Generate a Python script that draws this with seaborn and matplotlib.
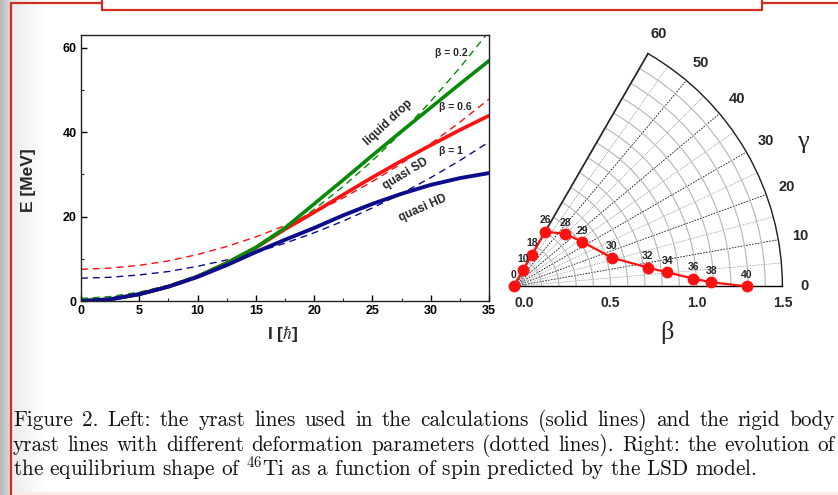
import numpy as np
import matplotlib
matplotlib.use("Agg")
import matplotlib.pyplot as plt
import seaborn as sns
from matplotlib.lines import Line2D
from matplotlib.patches import Rectangle

# ---------------- data ----------------
spin_I = [0, 2.5, 5, 7.5, 10, 12.5, 15, 17.5, 20, 22.5, 25, 27.5, 30, 32.5, 35]

E_liquid_drop = [0, 0.4, 1.6, 3.4, 5.8, 9.0, 12.7, 17.3, 23.0, 28.7, 34.5, 40.2, 45.8, 51.4, 56.9]
E_quasi_SD    = [0, 0.4, 1.6, 3.4, 5.8, 9.0, 12.6, 17.0, 21.0, 25.2, 29.3, 33.2, 36.9, 40.5, 43.9]
E_quasi_HD    = [0, 0.4, 1.6, 3.4, 5.7, 8.5, 11.6, 14.5, 17.3, 20.3, 23.0, 25.4, 27.5, 29.1, 30.3]

E_rigid_b02 = [0.6, 1.04, 2.11, 3.71, 6.12, 9.07, 12.65, 16.85, 21.68, 27.14, 33.23, 39.94, 47.29, 55.26, 63.85]
E_rigid_b06 = [7.5, 7.78, 8.46, 9.48, 11.02, 12.9, 15.18, 17.86, 20.94, 24.42, 28.3, 32.58, 37.26, 42.34, 47.82]
E_rigid_b10 = [5.4, 5.62, 6.17, 6.98, 8.22, 9.72, 11.54, 13.69, 16.15, 18.94, 22.04, 25.46, 29.21, 33.27, 37.66]

x_ticks = [0, 5, 10, 15, 20, 25, 30, 35]
y_ticks = [0, 20, 40, 60]

shape_spin_labels = ["0", "10", "18", "26", "28", "29", "30", "32", "34", "36", "38", "40"]
shape_gamma_deg = [0, 60, 60, 60, 45.5, 33, 16.3, 8.0, 5.2, 2.5, 1.2, 0]
shape_beta = [-0.064, 0.045, 0.149, 0.304, 0.365, 0.412, 0.532, 0.724, 0.835, 0.983, 1.086, 1.294]

gamma_ticks = [0, 10, 20, 30, 40, 50, 60]
beta_ticks = [0.0, 0.5, 1.0, 1.5]

caption_lines = [
    "Figure 2.  Left: the yrast lines used in the calculations (solid lines) and the rigid body",
    "yrast lines with different deformation parameters (dotted lines).  Right: the evolution of",
    "the equilibrium shape of $^{46}$Ti as a function of spin predicted by the LSD model.",
]

# ---------------- style ----------------
sns.set_theme(style="ticks")
plt.rcParams["font.family"] = ["Liberation Sans", "DejaVu Sans"]
plt.rcParams["mathtext.fontset"] = "cm"

W, H = 838, 495
fig = plt.figure(figsize=(W / 100, H / 100), dpi=100)
fig.patch.set_facecolor("white")

GREEN = "#078a07"
RED = "#ff1010"
BLUE = "#0c0c8a"
FRAME = "#cf2e1e"

def px(x, y):
    return x / W, 1 - y / H

# ---------------- slide decorations ----------------
bg = fig.add_axes([0, 0, 1, 1], zorder=-10)
bg.axis("off")
grad = np.linspace(0, 1, 50)[None, :]
bg.imshow(grad, extent=(0, 10, H, 0), cmap=matplotlib.colors.LinearSegmentedColormap.from_list("g", ["#b8b8b8", "#dcdcdc"]), aspect="auto", zorder=0)
bg.imshow(grad, extent=(11, 45, H, 0), cmap=matplotlib.colors.LinearSegmentedColormap.from_list("g2", ["#ebebeb", "#ffffff"]), aspect="auto", zorder=0)
bg.add_patch(Rectangle((11, 492), W - 11, 3, color="#fbeaea", zorder=1))
for xs, ys in [((11, 11), (3, H)), ((11, 102), (3, 3)), ((102, 102), (0, 10)),
               ((102, 762), (10, 10)), ((762, 762), (0, 10)), ((762, W), (2.5, 2.5))]:
    bg.add_line(Line2D(xs, ys, color=FRAME, lw=1.6, zorder=2))
bg.set_xlim(0, W)
bg.set_ylim(H, 0)

# ---------------- left panel ----------------
ax = fig.add_axes([81 / W, 1 - 301 / H, 408 / W, 266 / H])
dash = (0, (5, 3.5))
sns.lineplot(x=spin_I, y=E_rigid_b02, ax=ax, color=GREEN, lw=1.0, linestyle=dash)
sns.lineplot(x=spin_I, y=E_rigid_b06, ax=ax, color=RED, lw=1.0, linestyle=dash)
sns.lineplot(x=spin_I, y=E_rigid_b10, ax=ax, color=BLUE, lw=1.0, linestyle=dash)
sns.lineplot(x=spin_I, y=E_quasi_SD, ax=ax, color=RED, lw=2.6)
sns.lineplot(x=spin_I, y=E_liquid_drop, ax=ax, color=GREEN, lw=2.6)
sns.lineplot(x=spin_I, y=E_quasi_HD, ax=ax, color=BLUE, lw=2.8)

ax.set_xlim(0, 35)
ax.set_ylim(0, 63)
ax.set_xticks(x_ticks)
ax.set_yticks(y_ticks)
ax.set_xticks(np.arange(2.5, 35, 5), minor=True)
ax.set_yticks([10, 30, 50], minor=True)
ax.tick_params(which="major", direction="in", length=4, width=1, labelsize=9, pad=3, colors="black")
ax.tick_params(which="minor", direction="in", length=2.5, width=0.8)
for lab in ax.get_xticklabels() + ax.get_yticklabels():
    lab.set_fontweight("bold")
for sp in ax.spines.values():
    sp.set_color("#222222")
    sp.set_linewidth(1.0)
ax.set_xlabel("I [$\\hbar$]", fontsize=12.5, fontweight="bold")
ax.set_ylabel("E [MeV]", fontsize=12.5, fontweight="bold")
ax.xaxis.set_label_coords(0.495, -0.085)
ax.yaxis.set_label_coords(-0.11, 0.455)

ax.text(31.8, 58.8, "β = 0.2", fontsize=7.5, fontweight="bold", ha="center", va="center")
ax.text(32.1, 46.0, "β = 0.6", fontsize=7.5, fontweight="bold", ha="center", va="center")
ax.text(31.7, 35.6, "β = 1", fontsize=7.5, fontweight="bold", ha="center", va="center")
ax.text(26.4, 42.3, "liquid drop", fontsize=8.5, fontweight="bold", ha="center", va="center", rotation=43)
ax.text(27.8, 30.2, "quasi SD", fontsize=8.5, fontweight="bold", ha="center", va="center", rotation=31)
ax.text(29.3, 22.0, "quasi HD", fontsize=8.5, fontweight="bold", ha="center", va="center", rotation=24)

# ---------------- right panel (polar) ----------------
# matplotlib shrinks a partial wedge to ~0.87 of its box; box chosen so the wedge
# apex lands at (513, 287) px with a 270 px radius
s = 0.8704
bw, bh = 270 / s, 234 / s
cx, cy = 513 + 135, 287 - 117
axp = fig.add_axes([(cx - bw / 2) / W, 1 - (cy + bh / 2) / H, bw / W, bh / H], projection="polar")
axp.set_thetamin(0)
axp.set_thetamax(60)
axp.set_ylim(-0.064, 1.5)
axp.set_xticks(np.deg2rad(gamma_ticks))
axp.set_xticklabels([str(g) for g in gamma_ticks], fontsize=10.5, fontweight="bold")
axp.set_xticks(np.deg2rad(np.arange(5, 60, 10)), minor=True)
axp.set_yticks(beta_ticks)
axp.set_yticks(np.arange(0.1, 1.5, 0.1), minor=True)
axp.set_yticklabels([])
axp.xaxis.grid(True, which="major", color="#111111", ls=(0, (2, 1.5)), lw=0.6)
axp.xaxis.grid(True, which="minor", color="#666666", ls=(0, (1, 1.5)), lw=0.5)
axp.yaxis.grid(True, which="both", color="#b5b5b5", ls="-", lw=0.8)
axp.tick_params(axis="x", which="major", direction="in", length=4, width=0.8, pad=9)
axp.tick_params(axis="x", which="minor", length=0)
axp.tick_params(axis="y", which="both", length=0)
axp.spines["end"].set_visible(False)
axp.spines["inner"].set_visible(False)
axp.spines["start"].set_color("black")
axp.spines["start"].set_linewidth(1.0)
axp.spines["polar"].set_color("#222222")
axp.spines["polar"].set_linewidth(1.0)
axp.set_facecolor("white")

theta = np.deg2rad(shape_gamma_deg)
sns.lineplot(x=theta, y=shape_beta, ax=axp, sort=False, estimator=None, errorbar=None,
             color=RED, lw=1.6, marker="o", markersize=8.5, markeredgewidth=0,
             clip_on=False, zorder=5)
axp.set_xlabel("")
axp.set_ylabel("")
for t, r, lbl in zip(theta, shape_beta, shape_spin_labels):
    axp.annotate(lbl, xy=(t, r), xytext=(0, 4.5), textcoords="offset points",
                 ha="center", va="bottom", fontsize=7.5, fontweight="bold",
                 annotation_clip=False, zorder=6)
for b in beta_ticks:
    axp.annotate(f"{b:.1f}", xy=(0, b), xytext=(0, -7), textcoords="offset points",
                 ha="center", va="top", fontsize=10, fontweight="bold", annotation_clip=False)

fig.text(*px(803, 142), "γ", fontsize=19, family="Liberation Serif", ha="center", va="center")
fig.text(*px(667, 333), "β", fontsize=19, family="Liberation Serif", ha="center", va="center")

# ---------------- caption (justified like the LaTeX source) ----------------
renderer = fig.canvas.get_renderer()
cap_kw = dict(family="cmr10", fontsize=15.3, ha="left", va="baseline", color="#111111")
left_px, right_px = 13, 835
for i, line in enumerate(caption_lines):
    y = 1 - (426 + 25 * i) / H
    if i == len(caption_lines) - 1:
        fig.text(left_px / W, y, line, **cap_kw)
        continue
    words = line.split()
    objs = [fig.text(0, y, w, **cap_kw) for w in words]
    widths = [o.get_window_extent(renderer).width for o in objs]
    gap = (right_px - left_px - sum(widths)) / (len(words) - 1)
    x = left_px
    for o, w in zip(objs, widths):
        o.set_x(x / W)
        x += w + gap

fig.savefig("out.png", dpi=100)
